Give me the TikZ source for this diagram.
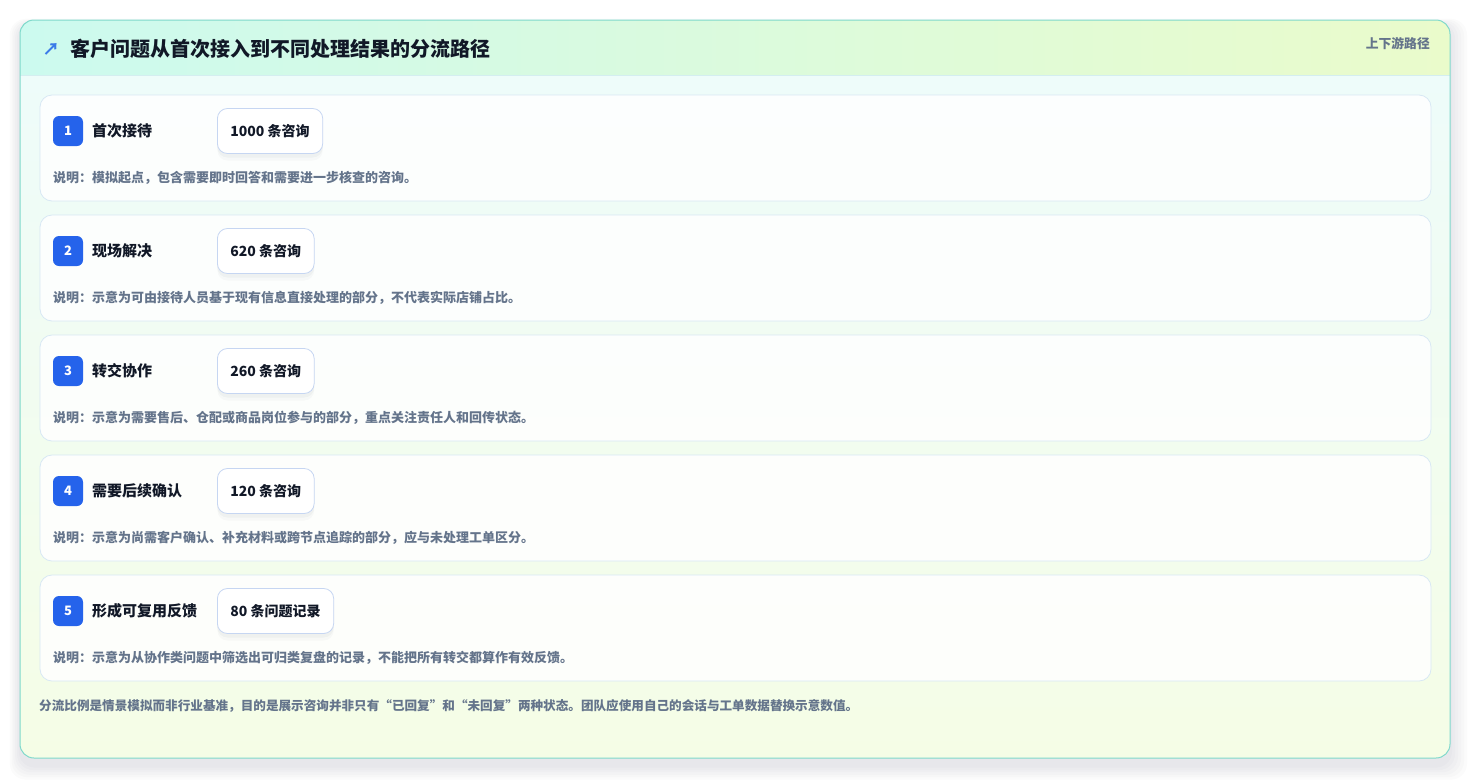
\documentclass[tikz,border=0pt]{standalone}
\usepackage{fontspec}
\setmainfont{Noto Sans CJK SC}

\definecolor{frameline}{HTML}{7FD9CB}
\definecolor{headleft}{HTML}{CCFAEF}
\definecolor{headright}{HTML}{EAFBCB}
\definecolor{bodytop}{HTML}{EEFCFA}
\definecolor{bodybottom}{HTML}{F5FDE6}
\definecolor{headrule}{HTML}{D4EEF0}
\definecolor{rowline}{HTML}{D8E8F4}
\definecolor{countline}{HTML}{C6D6F2}
\definecolor{badgeblue}{HTML}{2563EB}
\definecolor{arrowblue}{HTML}{3B7BE8}
\definecolor{titleink}{HTML}{111827}
\definecolor{notegray}{HTML}{64748B}
\definecolor{shadowgray}{HTML}{1E293B}

\tikzset{
  card/.style={draw=rowline,fill=white,fill opacity=.85,rounded corners=12pt,line width=.8pt},
  badge/.style={fill=badgeblue,rounded corners=6pt,minimum size=30pt,inner sep=0pt,
    text=white,font=\bfseries\fontsize{13}{13}\selectfont},
  steplabel/.style={anchor=west,inner sep=0pt,text=titleink,font=\bfseries\fontsize{15}{15}\selectfont},
  countbox/.style={anchor=west,draw=countline,fill=white,rounded corners=10pt,line width=.8pt,
    minimum height=45pt,inner xsep=13pt,text=titleink,font=\bfseries\fontsize{14}{14}\selectfont,
    preaction={fill=shadowgray,fill opacity=.035,draw=none,transform canvas={yshift=-4pt}},
    preaction={fill=shadowgray,fill opacity=.025,draw=none,transform canvas={yshift=-7pt}}},
  note/.style={anchor=west,inner sep=0pt,text=notegray,font=\bfseries\fontsize{13}{13}\selectfont},
}

\begin{document}
\begin{tikzpicture}[x=1pt,y=-1pt]
\useasboundingbox[fill=white] (0,0) rectangle (1471,780);
% soft shadow of the outer card
\foreach \s in {2,5,8,11,14,17}
  \fill[shadowgray,opacity=.014,rounded corners=16pt] (20-\s*.6,24-\s*.3) rectangle (1450+\s,766+\s*.8);
\begin{scope}
\clip[rounded corners=14pt] (20,20) rectangle (1450,758);
\shade[top color=bodytop,bottom color=bodybottom] (20,75) rectangle (1450,758);
\shade[left color=headleft,right color=headright] (20,20) rectangle (1450,75);
\draw[headrule] (20,75) -- (1450,75);
\end{scope}
\draw[frameline,line width=1pt,rounded corners=14pt] (20,20) rectangle (1450,758);

% header
\node[text=arrowblue,font=\bfseries\fontsize{17}{17}\selectfont,inner sep=0pt] (icon) at (51,49) {↗};
\node[anchor=west,inner sep=0pt,text=titleink,font=\bfseries\fontsize{20}{20}\selectfont] (title) at (70,49)
  {客户问题从首次接入到不同处理结果的分流路径};
\node[anchor=east,inner sep=0pt,text=notegray,font=\bfseries\fontsize{12.8}{13}\selectfont] (tag) at (1430,44) {上下游路径};

% step 1
\draw[card] (40,95) rectangle (1431,201);
\node[badge] (b1) at (68,131) {1};
\node[steplabel] (l1) at (92,131) {首次接待};
\node[countbox] (c1) at (217,131) {1000 条咨询};
\node[note] (n1) at (53,178) {说明：模拟起点，包含需要即时回答和需要进一步核查的咨询。};

% step 2
\draw[card] (40,215) rectangle (1431,321);
\node[badge] (b2) at (68,251) {2};
\node[steplabel] (l2) at (92,251) {现场解决};
\node[countbox] (c2) at (217,251) {620 条咨询};
\node[note] (n2) at (53,298) {说明：示意为可由接待人员基于现有信息直接处理的部分，不代表实际店铺占比。};

% step 3
\draw[card] (40,335) rectangle (1431,441);
\node[badge] (b3) at (68,371) {3};
\node[steplabel] (l3) at (92,371) {转交协作};
\node[countbox] (c3) at (217,371) {260 条咨询};
\node[note] (n3) at (53,418) {说明：示意为需要售后、仓配或商品岗位参与的部分，重点关注责任人和回传状态。};

% step 4
\draw[card] (40,455) rectangle (1431,561);
\node[badge] (b4) at (68,491) {4};
\node[steplabel] (l4) at (92,491) {需要后续确认};
\node[countbox] (c4) at (217,491) {120 条咨询};
\node[note] (n4) at (53,538) {说明：示意为尚需客户确认、补充材料或跨节点追踪的部分，应与未处理工单区分。};

% step 5
\draw[card] (40,575) rectangle (1431,681);
\node[badge] (b5) at (68,611) {5};
\node[steplabel] (l5) at (92,611) {形成可复用反馈};
\node[countbox] (c5) at (217,611) {80 条问题记录};
\node[note] (n5) at (53,658) {说明：示意为从协作类问题中筛选出可归类复盘的记录，不能把所有转交都算作有效反馈。};

% footer
\node[note,font=\bfseries\fontsize{12.6}{13}\selectfont] (foot) at (39,706) {分流比例是情景模拟而非行业基准，目的是展示咨询并非只有“已回复”和“未回复”两种状态。团队应使用自己的会话与工单数据替换示意数值。};
\end{tikzpicture}
\end{document}
